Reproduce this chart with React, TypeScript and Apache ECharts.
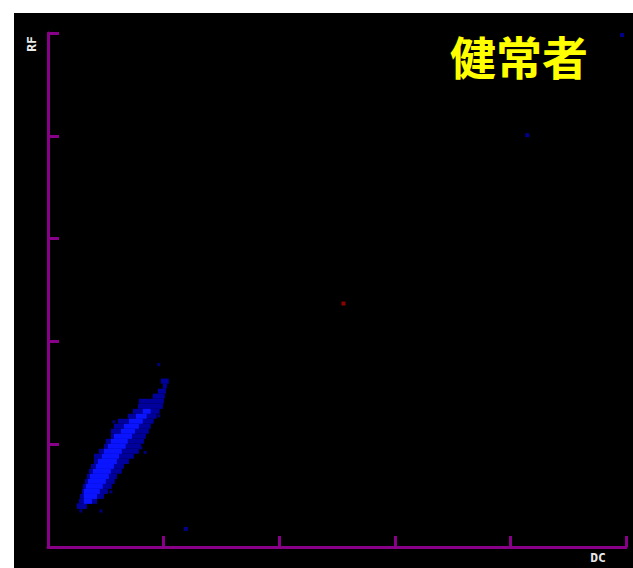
import React, { useEffect, useRef } from "react";
import * as echarts from "echarts";

// Axis settings (arbitrary channel units)
const axisMax = 250;
const axisInterval = 50;

// Density rows: [yLow, yHigh, xLow, xHigh] — low-density (dark blue) envelope
const dimRows: number[][] = [
  [79.4, 81.9, 48.8, 52.2],
  [77.0, 79.4, 49.7, 51.4],
  [74.6, 77.0, 47.5, 51.0],
  [72.1, 74.6, 45.3, 50.5],
  [69.7, 72.1, 39.3, 50.1],
  [67.2, 69.7, 38.9, 49.7],
  [64.8, 67.2, 36.7, 48.3],
  [62.4, 64.8, 34.5, 47.0],
  [59.9, 62.4, 30.2, 45.7],
  [57.5, 59.9, 28.5, 44.4],
  [55.1, 57.5, 27.2, 43.6],
  [52.6, 55.1, 27.2, 42.3],
  [50.2, 52.6, 25.0, 41.5],
  [47.8, 50.2, 24.2, 40.2],
  [45.3, 47.8, 22.0, 39.3],
  [42.9, 45.3, 19.9, 37.1],
  [40.4, 42.9, 19.9, 35.0],
  [38.0, 40.4, 18.6, 32.8],
  [35.6, 38.0, 17.7, 31.9],
  [33.1, 35.6, 16.8, 29.8],
  [30.7, 33.1, 16.0, 28.9],
  [28.3, 30.7, 15.1, 27.6],
  [25.8, 28.3, 14.7, 25.9],
  [23.4, 25.8, 13.8, 24.2],
  [21.0, 23.4, 13.4, 21.2],
  [18.5, 21.0, 12.5, 16.8],
];

// High-density (bright blue) core rows
const denseRows: number[][] = [
  [64.8, 67.2, 41.0, 44.4],
  [62.4, 64.8, 38.0, 42.7],
  [59.9, 62.4, 35.0, 41.0],
  [57.5, 59.9, 32.8, 39.3],
  [55.1, 57.5, 31.5, 37.6],
  [52.6, 55.1, 28.5, 36.3],
  [50.2, 52.6, 27.2, 34.5],
  [47.8, 50.2, 25.9, 33.6],
  [45.3, 47.8, 24.2, 31.9],
  [42.9, 45.3, 23.3, 30.7],
  [40.4, 42.9, 21.6, 29.8],
  [38.0, 40.4, 20.7, 28.5],
  [35.6, 38.0, 19.4, 27.2],
  [33.1, 35.6, 18.1, 26.3],
  [30.7, 33.1, 17.3, 25.0],
  [28.3, 30.7, 16.4, 23.7],
  [25.8, 28.3, 15.5, 22.4],
  [23.4, 25.8, 15.5, 21.2],
  [21.0, 23.4, 15.5, 19.0],
];

// Scattered single events near the cluster [x, y]
const strayEvents: number[][] = [
  [47.9, 88.7],
  [47.9, 63.8],
  [28.5, 60.9],
  [14.2, 17.5],
  [22.9, 17.5],
  [13.0, 20.5],
  [40.2, 48.2],
  [42.0, 46.0],
  [27.2, 26.8],
];

// Outlier events [x, y]
const blueOutliers: number[][] = [
  [59.6, 8.8],
  [207.3, 200.3],
  [248.3, 249.0],
];
const redOutliers: number[][] = [[127.8, 118.4]];

const AXIS_COLOR = "#870087";

function rectSeries(rows: number[][], color: string) {
  return {
    type: "custom",
    data: rows,
    encode: { x: [2, 3], y: [0, 1] },
    renderItem: (_params: any, api: any) => {
      const yLow = api.value(0);
      const yHigh = api.value(1);
      const xLow = api.value(2);
      const xHigh = api.value(3);
      const p0 = api.coord([xLow, yHigh]);
      const p1 = api.coord([xHigh, yLow]);
      return {
        type: "rect",
        shape: { x: p0[0], y: p0[1], width: p1[0] - p0[0], height: p1[1] - p0[1] },
        style: { fill: color },
      };
    },
    z: 3,
  };
}

export default function App() {
  const ref = useRef<HTMLDivElement>(null);
  useEffect(() => {
    if (!ref.current) return;
    const chart = echarts.init(ref.current, undefined, { renderer: "svg" });
    const axisCommon = {
      type: "value",
      min: 0,
      max: axisMax,
      interval: axisInterval,
      axisLine: { show: true, onZero: false, lineStyle: { color: AXIS_COLOR, width: 3 } },
      axisTick: { show: true, inside: true, length: 11, lineStyle: { color: AXIS_COLOR, width: 3 } },
      axisLabel: { show: false },
      splitLine: { show: false },
    };
    chart.setOption({
      animation: false,
      backgroundColor: "#000000",
      grid: { left: 34, right: 7, top: 20, bottom: 21 },
      xAxis: axisCommon,
      yAxis: axisCommon,
      series: [
        rectSeries(dimRows, "#00009c"),
        rectSeries(denseRows, "#0a14ff"),
        {
          type: "scatter",
          data: strayEvents,
          symbol: "rect",
          symbolSize: 3,
          itemStyle: { color: "#00009c" },
          z: 4,
        },
        {
          type: "scatter",
          data: blueOutliers,
          symbol: "rect",
          symbolSize: 4,
          itemStyle: { color: "#0000b0" },
          z: 4,
        },
        {
          type: "scatter",
          data: redOutliers,
          symbol: "rect",
          symbolSize: 4,
          itemStyle: { color: "#b00000" },
          z: 4,
        },
      ],
      graphic: [
        {
          type: "text",
          left: 506 - 70,
          top: 19,
          style: {
            text: "健常者",
            fill: "#ffff00",
            font: 'bold 46px "Noto Sans CJK JP"',
          },
        },
        {
          type: "text",
          x: 17,
          y: 31,
          rotation: Math.PI / 2,
          style: {
            text: "RF",
            fill: "#e8e8e8",
            font: 'bold 13px "DejaVu Sans Mono"',
            textAlign: "center",
            textVerticalAlign: "middle",
          },
        },
        {
          type: "text",
          x: 584,
          y: 544,
          style: {
            text: "DC",
            fill: "#e8e8e8",
            font: 'bold 13px "DejaVu Sans Mono"',
            textAlign: "center",
            textVerticalAlign: "middle",
          },
        },
      ],
    });
    return () => chart.dispose();
  }, []);
  return (
    <div
      ref={ref}
      style={{ position: "absolute", left: 14, top: 13, width: 619, height: 555 }}
    />
  );
}
